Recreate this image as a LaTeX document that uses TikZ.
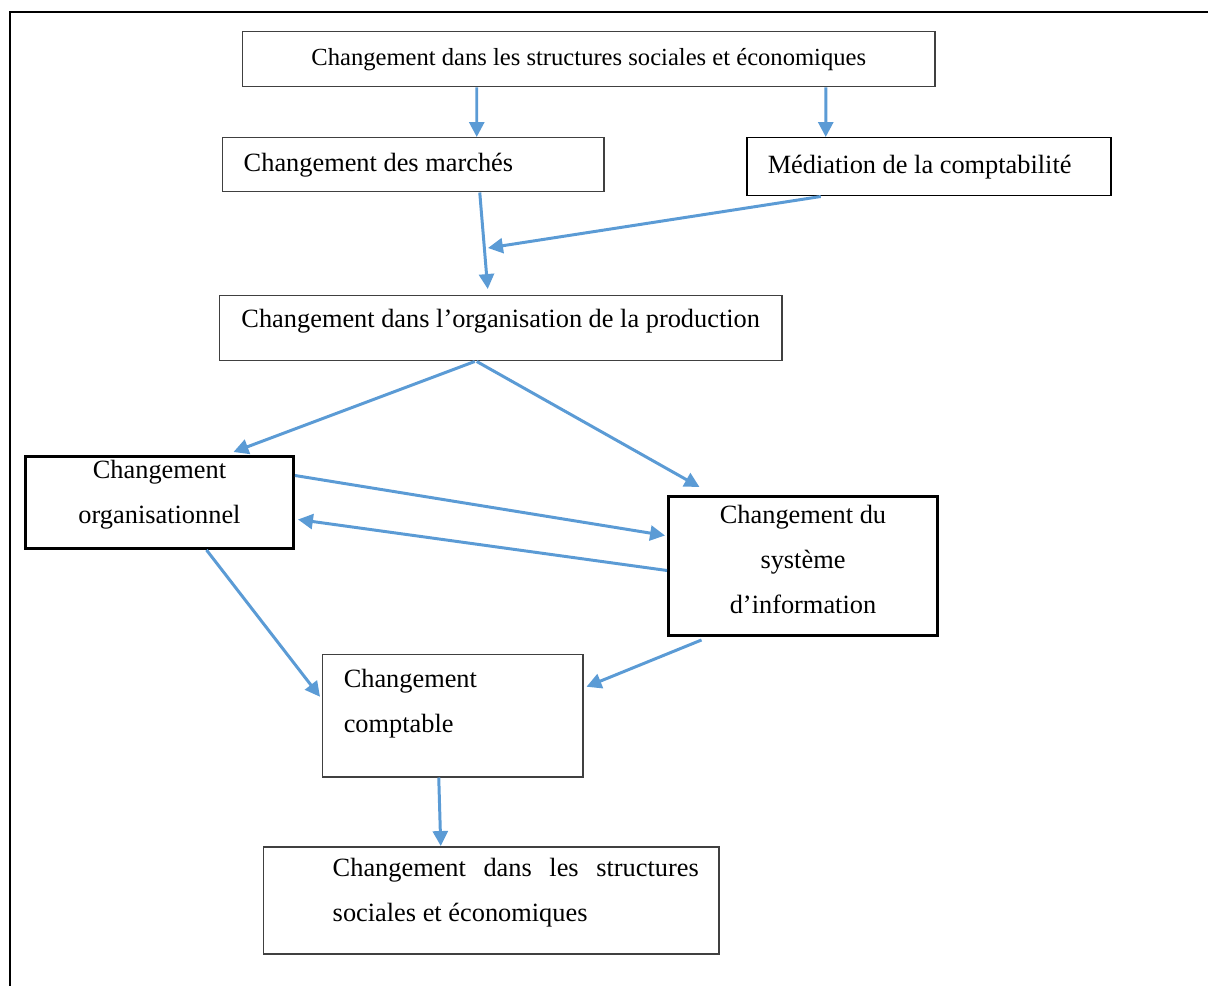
\documentclass[tikz,border=0pt]{standalone}
\usepackage{fontspec}
\setmainfont{Liberation Serif}
\usetikzlibrary{arrows.meta}
\definecolor{arrowblue}{HTML}{5B9BD5}
\definecolor{edgegray}{HTML}{404040}
\newcommand{\sinkby}[1]{\rule[-#1]{0pt}{#1}}

\begin{document}
\begin{tikzpicture}[
    font=\fontsize{15}{25.5}\selectfont,
    >={Triangle[length=8.5pt,width=8.5pt]},
    box/.style={draw=edgegray, line width=0.85pt, anchor=north west, inner xsep=0pt, inner ysep=0pt, align=flush center},
    darkbox/.style={box, draw=black},
    heavybox/.style={box, draw=black, line width=1.7pt},
    pad/.style={align=flush left, execute at begin node={\leftskip=#1\relax}},
    line/.style={->, arrowblue, line width=1.7pt}
]
\useasboundingbox (0,0) rectangle (24.16,-19.72);

% Page frame (left and top edges)
\draw[line width=1.7pt] (0.2,-19.9) -- (0.2,-0.24) -- (24.4,-0.24);

% Top row
\node[box, text width=13.84cm, minimum height=1.10cm, font=\fontsize{14}{17}\selectfont] (societe) at (4.84,-0.62) {Changement dans les structures sociales et économiques};
\node[box, pad=0.42cm, text width=7.62cm, minimum height=1.08cm] (marches) at (4.44,-2.74) {Changement des marchés};
\node[darkbox, pad=0.42cm, text width=7.28cm, minimum height=1.16cm] (mediation) at (14.92,-2.74) {Médiation de la comptabilité};

% Production
\node[box, text width=11.24cm, minimum height=1.30cm] (production) at (4.38,-5.90) {Changement dans l’organisation de la production\sinkby{0.40cm}};

% Organisation and information system
\node[heavybox, text width=5.36cm, minimum height=1.84cm] (orga) at (0.48,-9.10) {Changement\\organisationnel\sinkby{0.44cm}};
\node[heavybox, text width=5.38cm, minimum height=2.78cm] (sysinfo) at (13.34,-9.90) {Changement du\\système\\d’information\sinkby{0.26cm}};

% Accounting and result
\node[box, pad=0.42cm, text width=5.20cm, minimum height=2.44cm] (compta) at (6.44,-13.08) {Changement\\comptable\sinkby{0.60cm}};
\node[box, align=justify, text width=9.10cm, minimum height=2.14cm, execute at begin node={\leftskip=1.38cm\rightskip=0.40cm\hyphenpenalty=10000\relax}] (structures) at (5.26,-16.92) {Changement dans les structures sociales et économiques\sinkby{0.40cm}};

\coordinate (meet) at (9.76,-4.96);

% Top box to second row
\draw[line] ([xshift=-2.24cm]societe.south) -- ([xshift=1.27cm]marches.north);
\draw[line] ([xshift=4.74cm]societe.south) -- ([xshift=-2.06cm]mediation.north);

% Into production
\draw[line] ([xshift=1.33cm]marches.south) -- ([xshift=-0.26cm,yshift=0.12cm]production.north);
\draw[line] ([xshift=-2.16cm]mediation.south) -- (meet);

% Production splits
\draw[line] ([xshift=-0.52cm]production.south) -- ([xshift=1.48cm,yshift=0.06cm]orga.north);
\draw[line] ([xshift=-0.48cm]production.south) -- ([xshift=-2.07cm,yshift=0.16cm]sysinfo.north);

% Both ways between organisation and information system
\draw[line] ([yshift=0.54cm]orga.east) -- ([xshift=-0.04cm,yshift=0.61cm]sysinfo.west);
\draw[line] ([yshift=-0.09cm]sysinfo.west) -- ([xshift=0.06cm,yshift=-0.34cm]orga.east);

% Down to accounting, then to structures
\draw[line] ([xshift=0.94cm]orga.south) -- ([xshift=-0.04cm,yshift=0.38cm]compta.west);
\draw[line] ([xshift=-2.03cm,yshift=-0.06cm]sysinfo.south) -- ([xshift=0.06cm,yshift=0.58cm]compta.east);
\draw[line] ([xshift=-0.28cm]compta.south) -- ([xshift=-1.01cm]structures.north);

\end{tikzpicture}
\end{document}
